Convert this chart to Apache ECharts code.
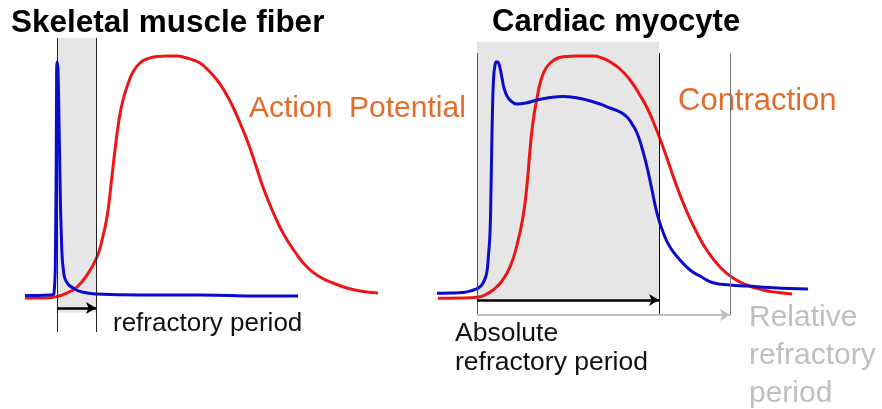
<!DOCTYPE html>
<html>
<head>
<meta charset="utf-8">
<script src="https://cdn.jsdelivr.net/npm/echarts@6/dist/echarts.min.js"></script>
<style>html,body{margin:0;padding:0;background:#fff;}#c{width:882px;height:409px;}</style>
</head>
<body>
<div id="c"></div>
<script>
// ---- Skeletal muscle fiber (time units, normalized amplitude 0-100) ----
const skelAPx = [5,30,34,35.5,36.5,37,38,39.5,41.5,44,48,54,62,76,120,180,240,278];
const skelAPy = [1.8,2,2.6,20,80,95.2,92,60,24,10,6.4,4.6,3.2,2.4,2,2,1.6,1.6];
const skelConx = [5,25,37,47,57,67,77,82,87,91,95,99,103,108,113,120,127,137,147,157,165,173,180,188,197,205,213,220,227,235,243,253,263,275,287,300,313,327,340,358];
const skelCony = [0.8,0.8,1.4,2.8,5.2,10,17.2,24,33.2,46,60,72,80,86.4,91.2,94.8,96.4,97.4,97.6,97.6,97,96,94.8,92,88,83.2,77.2,70.8,64,54.8,45.2,35.2,26.8,19.2,13.2,9.2,6.8,4.8,3.6,2.8];
const skelRefractory = [37, 76];

// ---- Cardiac myocyte ----
const cardAPx = [7,20,33,42,50,54,56.7,58.5,60,61,61.7,62.5,63.5,65,66.7,68.5,70,72,74,77,81,86.7,96,106.7,120,133,145,157,170,180,190,197,202,207,212,217,222,227,233,240,250,260,270,283,300,317,340,360,378];
const cardAPy = [2.7,2.8,3,3.8,5.3,7.6,10.8,18,26.8,44,60,76,88,94,95.3,94.8,92.8,88.8,84.8,81.6,79.6,78.4,78.8,80,81,81.4,81,80,78.4,76.8,75.2,73.2,70.4,66.8,60.8,53.2,44,34.8,27.2,21.2,16,12,9.6,6.9,6,5.6,5,4.6,4.4];
const cardConx = [8,30,47,55,63,72,80,87,93,97,100,103,106.7,111,116.7,124,133,148,163,172,180,190,200,208,216.7,225,233,240,247,257,267,278,290,303,317,333,348,362];
const cardCony = [0.7,0.8,1.1,2,4,7.6,13.2,22,33.2,46,60,71.2,80,88,93.2,96,97.3,97.6,97.6,96.8,95.3,92.4,88,83.2,77.2,69.6,61.2,53.2,45.2,35.2,26.8,19.2,13.2,8.8,6,4,3,2.4];
const cardAbsolute = [47, 229];
const cardRelativeEnd = 300;

const titles = ['Skeletal muscle fiber', 'Cardiac myocyte'];
const seriesNames = ['Action Potential', 'Contraction'];

const zip = (xs, ys) => xs.map((x, i) => [x, ys[i]]);
const BLUE = '#0b0bcc', RED = '#ee1515', ORANGE = '#e46c2a';
const YMIN = -16, YMAX = 105;
const FONT = '"Liberation Sans", Arial, sans-serif';

const chart = echarts.init(document.getElementById('c'), null, {renderer: 'canvas'});

function axisPair(i, max) {
  return {
    x: {type: 'value', gridIndex: i, min: 0, max: max, show: false},
    y: {type: 'value', gridIndex: i, min: YMIN, max: YMAX, show: false}
  };
}
const a0 = axisPair(0, 360), a1 = axisPair(1, 380);

function curve(name, data, color, i) {
  return {type: 'line', name: name, xAxisIndex: i, yAxisIndex: i, data: data,
    smooth: 0.5, showSymbol: false, z: 3,
    lineStyle: {color: color, width: 3}};
}
function vline(x, y0, y1, color) {
  return [{coord: [x, y0], lineStyle: {color: color, width: 1, type: 'solid'}, symbol: 'none'},
          {coord: [x, y1], symbol: 'none'}];
}
function arrow(x0, x1, y, color, w) {
  return [{coord: [x0, y], lineStyle: {color: color, width: w, type: 'solid'}},
          {coord: [x1, y]}];
}
function txt(left, top, text, size, fill, extra) {
  return {type: 'text', left: left, top: top,
    style: Object.assign({text: text, font: size + 'px ' + FONT, fill: fill}, extra || {})};
}

const option = {
  animation: false,
  backgroundColor: '#ffffff',
  grid: [
    {left: 20, top: 37.5, width: 360, height: 302.5},
    {left: 430, top: 37.5, width: 380, height: 302.5}
  ],
  xAxis: [a0.x, a1.x],
  yAxis: [a0.y, a1.y],
  series: [
    {type: 'line', xAxisIndex: 0, yAxisIndex: 0, data: [], z: 1, silent: true,
      markArea: {silent: true, itemStyle: {color: '#e6e6e6'},
        data: [[{coord: [skelRefractory[0], 104.8]}, {coord: [skelRefractory[1], -5]}]]},
      markLine: {silent: true, symbol: ['none', 'none'], label: {show: false},
        data: [vline(skelRefractory[0], 104.8, -12.8, '#222'), vline(skelRefractory[1], 104.8, -12.8, '#222')]}
    },
    curve(seriesNames[1], zip(skelConx, skelCony), RED, 0),
    curve(seriesNames[0], zip(skelAPx, skelAPy), BLUE, 0),
    {type: 'line', xAxisIndex: 0, yAxisIndex: 0, data: [], z: 5, silent: true,
      markLine: {silent: true, symbol: ['none', 'arrow'], symbolSize: [9, 10], label: {show: false},
        data: [arrow(skelRefractory[0], skelRefractory[1], -3.2, '#000', 2.5)]}
    },
    {type: 'line', xAxisIndex: 1, yAxisIndex: 1, data: [], z: 1, silent: true,
      markArea: {silent: true, itemStyle: {color: '#e6e6e6'},
        data: [[{coord: [cardAbsolute[0], 103.3]}, {coord: [cardAbsolute[1], 0]}]]},
      markLine: {silent: true, symbol: ['none', 'none'], label: {show: false},
        data: [vline(cardAbsolute[0], 98.8, -6, '#555'), vline(cardAbsolute[1], 98.8, -6, '#111'), vline(cardRelativeEnd, 98.8, -6, '#777')]}
    },
    curve(seriesNames[1], zip(cardConx, cardCony), RED, 1),
    curve(seriesNames[0], zip(cardAPx, cardAPy), BLUE, 1),
    {type: 'line', xAxisIndex: 1, yAxisIndex: 1, data: [], z: 5, silent: true,
      markLine: {silent: true, symbol: ['none', 'arrow'], symbolSize: [9, 10], label: {show: false},
        data: [arrow(cardAbsolute[0], cardAbsolute[1], 0, '#000', 2.5),
               arrow(cardAbsolute[0], cardRelativeEnd, -6, '#bfbfbf', 2)]}
    }
  ],
  graphic: [
    {type: 'text', left: 11, top: 7, style: {text: titles[0], font: 'bold 31.5px ' + FONT, fill: '#000'}},
    {type: 'text', left: 492, top: 7, style: {text: titles[1], font: 'bold 31px ' + FONT, fill: '#000'}},
    txt(249, 94, 'Action  Potential', 30, ORANGE),
    txt(678, 86, 'Contraction', 31, ORANGE),
    txt(113, 311, 'refractory period', 26, '#111'),
    txt(455, 320, 'Absolute', 26.5, '#111'),
    txt(455, 349, 'refractory period', 26.5, '#111'),
    txt(749, 299, 'Relative\nrefractory\nperiod', 30, '#bfbfbf', {lineHeight: 38})
  ]
};
chart.setOption(option);
</script>
</body>
</html>
